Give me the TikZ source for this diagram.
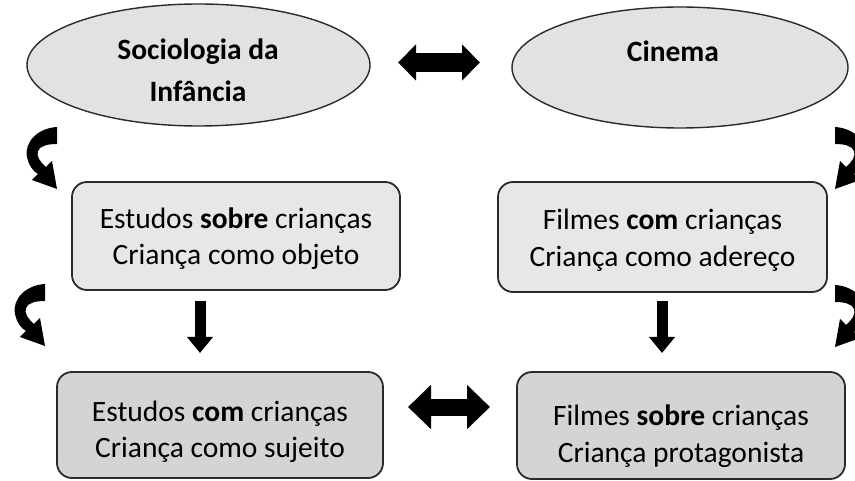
\documentclass[tikz,border=0pt]{standalone}
\usepackage{fontspec}
\setmainfont{Carlito}
\usetikzlibrary{arrows.meta,shapes.geometric,calc}
\definecolor{ellfill}{HTML}{E2E2E2}
\definecolor{topfill}{HTML}{E7E7E7}
\definecolor{botfill}{HTML}{D4D4D4}
\definecolor{edge}{HTML}{2A2A2A}
\tikzset{
  ell/.style={ellipse, draw=edge, line width=1.4pt, fill=ellfill, inner sep=0pt},
  elltext/.style={font=\fontsize{29.5}{42}\selectfont\bfseries, align=center, inner sep=0pt},
  boxbase/.style={rectangle, rounded corners=15pt, draw=edge, line width=1.8pt, inner sep=0pt},
  topbox/.style={boxbase, fill=topfill},
  botbox/.style={boxbase, fill=botfill},
  boxtext/.style={font=\fontsize{29.5}{36.5}\selectfont, align=center, inner sep=0pt},
  dblarrow/.style={line width=#1, {Triangle[width=35pt,length=18pt]}-{Triangle[width=35pt,length=18pt]}},
  dblarrowB/.style={line width=17pt, {Triangle[width=43pt,length=23pt]}-{Triangle[width=43pt,length=23pt]}},
  downarrow/.style={line width=11pt, -{Triangle[width=25pt,length=16pt]}},
  curvearrow/.style={fill=black}
}
\newcommand{\curvedarrowshape}{%
  \fill[curvearrow] (57,127) .. controls (38,128) and (24,142) .. (27,157)
     .. controls (29,166) and (33,171) .. (38,174)
     -- (32,180) -- (57,189) -- (52,161) -- (46,167)
     .. controls (40,162) and (36,156) .. (38,151)
     .. controls (40,146) and (47,144) .. (57,144) -- cycle;}
\begin{document}
\begin{tikzpicture}[x=1pt,y=-1pt]
\useasboundingbox (0,0) rectangle (855,481);
\clip (0,0) rectangle (855,481);
\fill[white] (0,0) rectangle (855,481);

% ellipses
\node[ell, minimum width=343pt, minimum height=122pt] (soc) at (198.5,65) {};
\node[elltext] (soctext) at (198,70.5) {Sociologia da\\Infância};
\node[ell, minimum width=336pt, minimum height=121pt] (cin) at (680,67.5) {};
\node[elltext] (cintext) at (673,51.5) {Cinema};

% boxes
\node[topbox, minimum width=328pt, minimum height=108pt] (b1) at (236,236) {};
\node[boxtext] (t1) at (236,238.5) {Estudos \textbf{sobre} crianças\\Criança como objeto};
\node[topbox, minimum width=329pt, minimum height=110pt] (b2) at (662.5,237) {};
\node[boxtext] (t2) at (662.5,240) {Filmes \textbf{com} crianças\\Criança como adereço};
\node[botbox, minimum width=326pt, minimum height=106pt] (b3) at (220,425) {};
\node[boxtext] (t3) at (220,432) {Estudos \textbf{com} crianças\\Criança como sujeito};
\node[botbox, minimum width=328pt, minimum height=107pt] (b4) at (681,425.5) {};
\node[boxtext] (t4) at (681,436) {Filmes \textbf{sobre} crianças\\Criança protagonista};

% connectors
\coordinate (da1) at (398,62.5);
\coordinate (da2) at (480,62.5);
\draw[dblarrow=19pt] (da1) -- (da2);
\coordinate (db1) at (408,407);
\coordinate (db2) at (490,407);
\draw[dblarrowB] (db1) -- (db2);
\coordinate (dl1) at (200,301);
\coordinate (dl2) at (200,353);
\draw[downarrow] (dl1) -- (dl2);
\coordinate (dr1) at (662,301);
\coordinate (dr2) at (662,353);
\draw[downarrow] (dr1) -- (dr2);

% curved arrows
\begin{scope}\curvedarrowshape\end{scope}
\begin{scope}[shift={(-12,157)}]\curvedarrowshape\end{scope}
\begin{scope}[shift={(892,0)}, xscale=-1]\curvedarrowshape\end{scope}
\begin{scope}[shift={(892,158)}, xscale=-1]\curvedarrowshape\end{scope}
\end{tikzpicture}
\end{document}
